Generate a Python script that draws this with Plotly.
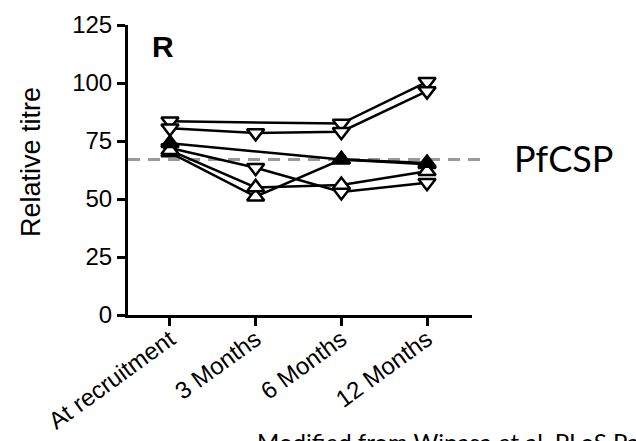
import plotly.graph_objects as go

categories = ["At recruitment", "3 Months", "6 Months", "12 Months"]
xpos = [0, 1, 2, 3]

# series values (relative titre); None = no marker at that time point
s1_down = [83.5, None, 82.5, 100.5]
s2_down = [80.5, 78.5, 79.0, 96.5]
s3_up = [74.0, None, 67.0, 65.5]
s4_up = [70.0, 51.0, 67.0, 65.0]
s5_down = [72.0, 63.5, 53.0, 57.0]
s6_up = [71.0, 55.0, 56.0, 62.0]
threshold = 67
yticks = [0, 25, 50, 75, 100, 125]

W, H = 636, 441
FONT = "Liberation Sans, Arial, sans-serif"

fig = go.Figure()

def add(vals, sym, fill="white"):
    fig.add_trace(go.Scatter(
        x=xpos, y=vals, mode="lines+markers", connectgaps=True,
        line=dict(color="black", width=2.5),
        marker=dict(symbol=sym, size=15, color=fill,
                    line=dict(color="black", width=2.5)),
        cliponaxis=False, showlegend=False, hoverinfo="skip"))

add(s1_down, "triangle-down")
add(s2_down, "triangle-down")
add(s5_down, "triangle-down")
add(s4_up, "triangle-up")
add(s6_up, "triangle-up")
add(s3_up, "triangle-up", fill="black")

fig.add_shape(type="line", xref="x domain", yref="y",
              x0=0.0, x1=1.03, y0=threshold, y1=threshold,
              line=dict(color="#9a9a9a", width=3, dash="12px,8px"),
              layer="below")

fig.update_layout(
    width=W, height=H, margin=dict(l=0, r=0, t=0, b=0, autoexpand=False),
    paper_bgcolor="white", plot_bgcolor="white",
    font=dict(family=FONT, color="black"),
    xaxis=dict(domain=[128 / W, 472 / W], range=[-0.49, 3.525],
               tickvals=xpos, ticktext=categories, tickangle=-36,
               automargin=False, ticklabelstandoff=-10,
               showline=True, linecolor="black", linewidth=3,
               ticks="outside", ticklen=8, tickwidth=2.5, tickcolor="black",
               showgrid=False, zeroline=False,
               tickfont=dict(size=24, family=FONT, color="black")),
    yaxis=dict(domain=[(H - 315) / H, (H - 25) / H], range=[0, 125],
               tickvals=yticks, automargin=False,
               showline=True, linecolor="black", linewidth=3,
               ticks="outside", ticklen=8, tickwidth=2.5, tickcolor="black",
               showgrid=False, zeroline=False,
               tickfont=dict(size=24, family=FONT, color="black")),
)

fig.add_annotation(text="Relative titre", xref="paper", yref="paper",
                   x=31 / W, y=(H - 162) / H, textangle=-90, showarrow=False,
                   xanchor="center", yanchor="middle",
                   font=dict(size=27, family=FONT, color="black"))
fig.add_annotation(text="<b>R</b>", xref="paper", yref="paper",
                   x=163 / W, y=(H - 46) / H, showarrow=False,
                   xanchor="center", yanchor="middle",
                   font=dict(size=30, family=FONT, color="black"))
fig.add_annotation(text="PfCSP", xref="paper", yref="paper",
                   x=563 / W, y=(H - 158) / H, showarrow=False,
                   xanchor="center", yanchor="middle",
                   font=dict(size=36, family="Lato, Open Sans, sans-serif", color="black"))
fig.add_annotation(text="Modified from Wipasa et al. PLoS Pathogens 2010",
                   xref="paper", yref="paper", x=255 / W, y=(H - 425) / H,
                   xanchor="left", yanchor="top", showarrow=False,
                   font=dict(size=24, family="Lato, Open Sans, sans-serif", color="black"))

fig.write_html("out.html")
